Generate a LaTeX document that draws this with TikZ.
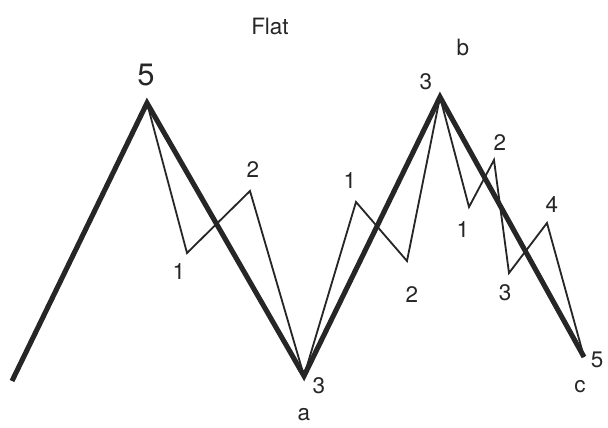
\documentclass[tikz,border=0pt]{standalone}
\usepackage{fontspec}
\setmainfont{TeX Gyre Heros}
\usetikzlibrary{positioning}

\tikzset{
    wave/.style={line width=3.6pt,black!85,line join=miter},
    subwave/.style={line width=1.3pt,black!85,line join=miter},
    lbl/.style={font=\fontsize{16}{18}\selectfont,black!85,inner sep=0pt},
}

\begin{document}
\begin{tikzpicture}[x=0.25mm,y=-0.25mm]
    \useasboundingbox (0,0) rectangle (608,428);

    % turning points of the big zigzag
    \coordinate (s) at (12,381);
    \coordinate (p5) at (147,103);
    \coordinate (a) at (304,376);
    \coordinate (b) at (440,97);
    \coordinate (c) at (584,357);

    % inner waves
    \coordinate (a1) at (187,253);
    \coordinate (a2) at (250,191);
    \coordinate (b1) at (356,202);
    \coordinate (b2) at (407,261);
    \coordinate (c1) at (469,207);
    \coordinate (c2) at (494,160);
    \coordinate (c3) at (509,273);
    \coordinate (c4) at (547,223);

    % thin sub-waves
    \draw[subwave] (p5) -- (a1) -- (a2) -- (a);
    \draw[subwave] (a) -- (b1) -- (b2) -- (b);
    \draw[subwave] (b) -- (c1) -- (c2) -- (c3) -- (c4) -- (c);

    % main zigzag
    \draw[wave] (s) -- (p5) -- (a) -- (b) -- (c);

    % labels
    \node[lbl] (title) at (270,26) {Flat};
    \node[lbl,font=\fontsize{22}{24}\selectfont] (l5) at (146,75) {5};
    \node[lbl] (la1) at (179,272) {1};
    \node[lbl] (la2) at (253,170) {2};
    \node[lbl] (la3) at (319,386) {3};
    \node[lbl] (la) at (304,415) {a};
    \node[lbl] (lb1) at (350,181) {1};
    \node[lbl] (lb2) at (412,295) {2};
    \node[lbl] (lb3) at (426,82) {3};
    \node[lbl] (lb) at (463,47) {b};
    \node[lbl] (lc1) at (463,230) {1};
    \node[lbl] (lc2) at (500,143) {2};
    \node[lbl] (lc3) at (505,293) {3};
    \node[lbl] (lc4) at (552,205) {4};
    \node[lbl] (lc5) at (597,360) {5};
    \node[lbl] (lc) at (580,387) {c};
\end{tikzpicture}
\end{document}
